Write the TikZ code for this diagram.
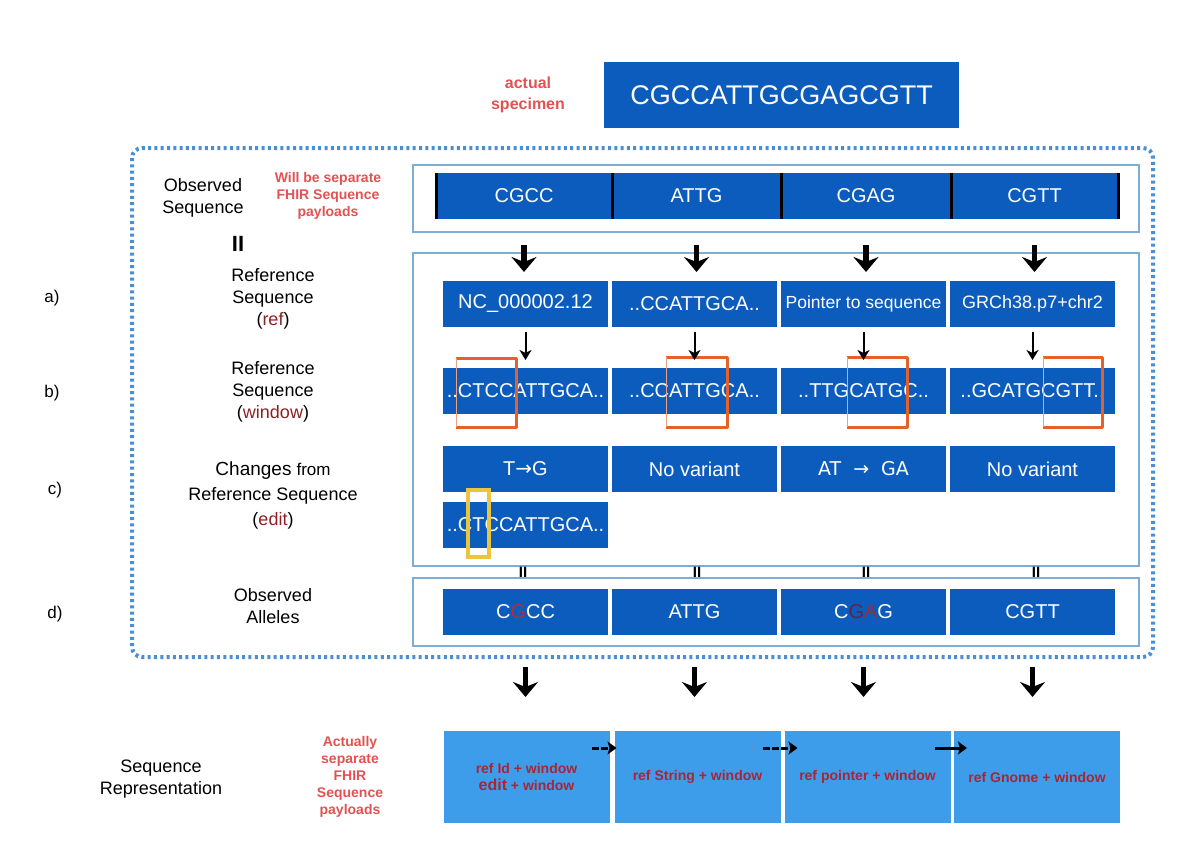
\documentclass[tikz,border=0pt]{standalone}
\usepackage{fontspec}
\setmainfont{Liberation Sans}
\newfontfamily\dejavu{DejaVu Sans}
\usepackage{xcolor}
\usetikzlibrary{arrows.meta,positioning,calc}

\definecolor{seqblue}{RGB}{11,92,189}
\definecolor{repblue}{RGB}{62,157,235}
\definecolor{frameblue}{RGB}{125,172,214}
\definecolor{dotblue}{RGB}{74,143,214}
\definecolor{notered}{RGB}{226,82,82}
\definecolor{tagred}{RGB}{140,32,36}
\definecolor{boxred}{RGB}{168,38,52}
\definecolor{snpred}{RGB}{190,40,52}
\definecolor{snpdark}{RGB}{105,32,72}
\definecolor{markorange}{RGB}{228,98,42}
\definecolor{markyellow}{RGB}{234,198,62}

\begin{document}
\begin{tikzpicture}[
    x=1pt, y=-1pt,
    node distance=4pt,
    seqbox/.style={rectangle, fill=seqblue, text=white, minimum width=165pt, minimum height=46pt, inner sep=0pt, outer sep=0pt, font=\fontsize{20}{24}\selectfont},
    repbox/.style={rectangle, fill=repblue, minimum width=166pt, minimum height=92pt, inner sep=0pt, outer sep=0pt, text=boxred, align=center, font=\bfseries\fontsize{14}{17}\selectfont},
    panel/.style={rectangle, draw=frameblue, line width=1.5pt, inner sep=0pt, outer sep=0pt},
    dotframe/.style={draw=dotblue, line width=4pt, dash pattern=on 3pt off 3.3pt, rounded corners=10pt},
    sidetext/.style={align=center, font=\fontsize{18}{22}\selectfont},
    note/.style={align=center, text=notered, font=\bfseries\fontsize{14}{17}\selectfont},
    tag/.style={font=\fontsize{17}{20}\selectfont},
    eqmark/.style={font=\bfseries\fontsize{15}{15}\selectfont},
    bigarrow/.style={line width=5.5pt, -{Stealth[length=15pt,width=25pt,inset=5pt]}},
    thinarrow/.style={line width=2pt, -{Stealth[length=10pt,width=12pt,inset=3pt]}},
    dasharrow/.style={line width=3pt, dash pattern=on 7pt off 2pt, -{Stealth[length=9pt,width=13pt,inset=2pt]}},
    sepbar/.style={line width=3pt, black},
    winmark/.style={draw=markorange, line width=3pt, line join=round},
    winedge/.style={draw=markorange!60!white, line width=1pt},
    editmark/.style={draw=markyellow, line width=3.5pt}
]
    \useasboundingbox (0,0) rectangle (1193,848);

    % actual specimen
    \node[note, font=\bfseries\fontsize{16}{21}\selectfont] (spec_note) at (528,95) {actual\\specimen};
    \node[seqbox, minimum width=355pt, minimum height=66pt, font=\fontsize{27}{30}\selectfont] (specimen) at (781.5,95) {CGCCATTGCGAGCGTT};

    % dotted frame
    \draw[dotframe] (132,148) rectangle (1153,657);

    % panels
    \node[panel, minimum width=726pt, minimum height=67pt] (panel_obs) at (776,198.5) {};
    \node[panel, minimum width=726pt, minimum height=313pt] (panel_ref) at (776,409.5) {};
    \node[panel, minimum width=726pt, minimum height=68pt] (panel_all) at (776,612) {};

    % left column texts
    \node[sidetext] (obs_label) at (203,198) {Observed\\Sequence};
    \node[note] (sep_note) at (328,196) {Will be separate\\FHIR Sequence\\payloads};
    \node[font=\bfseries\fontsize{22}{22}\selectfont] (obs_eq) at (238,244) {II};
    \node[sidetext] (ref_label) at (273,299) {Reference\\Sequence\\(\textcolor{tagred}{ref})};
    \node[sidetext] (win_label) at (273,392) {Reference\\Sequence\\(\textcolor{tagred}{window})};
    \node[sidetext, font=\fontsize{18}{25}\selectfont] (chg_label) at (273,495) {{\fontsize{19}{25}\selectfont Changes} {\fontsize{17}{25}\selectfont from}\\Reference Sequence\\(\textcolor{tagred}{edit})};
    \node[sidetext] (all_label) at (273,606) {Observed\\Alleles};
    \node[tag] (tag_a) at (52,298) {a)};
    \node[tag] (tag_b) at (52,393) {b)};
    \node[tag] (tag_c) at (55,490) {c)};
    \node[tag] (tag_d) at (55,614) {d)};
    \node[sidetext] (rep_label) at (161,779) {Sequence\\Representation};
    \node[note] (act_note) at (350,777) {Actually\\separate\\FHIR\\Sequence\\payloads};

    % observed sequence pieces
    \node[seqbox, minimum width=176pt] (seq_1) at (524,196) {CGCC};
    \node[seqbox, minimum width=169pt, right=0pt of seq_1] (seq_2) {ATTG};
    \node[seqbox, minimum width=170pt, right=0pt of seq_2] (seq_3) {CGAG};
    \node[seqbox, minimum width=167pt, right=0pt of seq_3] (seq_4) {CGTT};
    \draw[sepbar] (seq_1.north west) -- (seq_1.south west);
    \draw[sepbar] (seq_1.north east) -- (seq_1.south east);
    \draw[sepbar] (seq_2.north east) -- (seq_2.south east);
    \draw[sepbar] (seq_3.north east) -- (seq_3.south east);
    \draw[sepbar] (seq_4.north east) -- (seq_4.south east);

    % a) reference sequence
    \node[seqbox] (ref_1) at (525.5,304) {NC\_000002.12};
    \node[seqbox, right=of ref_1] (ref_2) {..CCATTGCA..};
    \node[seqbox, right=of ref_2, font=\fontsize{17.5}{20}\selectfont] (ref_3) {Pointer to sequence};
    \node[seqbox, right=of ref_3, font=\fontsize{18}{20}\selectfont] (ref_4) {GRCh38.p7+chr2};

    % b) reference window
    \node[seqbox, below=41pt of ref_1] (win_1) {..CTCCATTGCA..};
    \node[seqbox, right=of win_1] (win_2) {..CCATTGCA..};
    \node[seqbox, right=of win_2] (win_3) {..TTGCATGC..};
    \node[seqbox, right=of win_3] (win_4) {..GCATGCGTT..};

    % c) edits
    \node[seqbox, below=32pt of win_1] (chg_1) {T{\dejavu →}G};
    \node[seqbox, right=of chg_1] (chg_2) {No variant};
    \node[seqbox, right=of chg_2, font=\dejavu\fontsize{19}{20}\selectfont] (chg_3) {AT\ \ →\ \ GA};
    \node[seqbox, right=of chg_3] (chg_4) {No variant};
    \node[seqbox, below=10pt of chg_1] (edit_1) {..CTCCATTGCA..};

    % d) observed alleles
    \node[seqbox] (all_1) at (525.5,612) {C\textcolor{snpred}{G}CC};
    \node[seqbox, right=of all_1] (all_2) {ATTG};
    \node[seqbox, right=of all_2] (all_3) {C\textcolor{snpdark}{G}\textcolor{boxred}{A}G};
    \node[seqbox, right=of all_3] (all_4) {CGTT};
    \node[eqmark] (eq_1) at (523,572) {II};
    \node[eqmark] (eq_2) at (697,572) {II};
    \node[eqmark] (eq_3) at (866,572) {II};
    \node[eqmark] (eq_4) at (1036,572) {II};

    % window marks
    \draw[winmark] ([shift={(13pt,10pt)}]win_1.north west) -- ++(60pt,0pt) -- ++(0pt,-69pt) -- ++(-60pt,0pt);
    \draw[winedge] ([shift={(13pt,10pt)}]win_1.north west) -- ++(0pt,-69pt);
    \draw[winmark] ([shift={(54pt,11pt)}]win_2.north west) -- ++(61pt,0pt) -- ++(0pt,-70pt) -- ++(-61pt,0pt);
    \draw[winedge] ([shift={(54pt,11pt)}]win_2.north west) -- ++(0pt,-70pt);
    \draw[winmark] ([shift={(66pt,11pt)}]win_3.north west) -- ++(60pt,0pt) -- ++(0pt,-70pt) -- ++(-60pt,0pt);
    \draw[winedge] ([shift={(66pt,11pt)}]win_3.north west) -- ++(0pt,-70pt);
    \draw[winmark] ([shift={(93pt,11pt)}]win_4.north west) -- ++(59pt,0pt) -- ++(0pt,-70pt) -- ++(-59pt,0pt);
    \draw[winedge] ([shift={(93pt,11pt)}]win_4.north west) -- ++(0pt,-70pt);
    \draw[editmark] ([shift={(25pt,12pt)}]edit_1.north west) rectangle ++(21pt,-67pt);

    % observed -> reference
    \draw[bigarrow, shorten <=26pt, shorten >=9pt] (seq_1.south) -- (seq_1.south |- ref_1.north);
    \draw[bigarrow, shorten <=26pt, shorten >=9pt] (seq_2.south) -- (seq_2.south |- ref_2.north);
    \draw[bigarrow, shorten <=26pt, shorten >=9pt] (seq_3.south) -- (seq_3.south |- ref_3.north);
    \draw[bigarrow, shorten <=26pt, shorten >=9pt] (seq_4.south) -- (seq_4.south |- ref_4.north);

    % reference -> window
    \draw[thinarrow, shorten <=5pt, shorten >=8pt] (ref_1.south) -- (win_1.north);
    \draw[thinarrow, shorten <=5pt, shorten >=8pt] (ref_2.south) -- (win_2.north);
    \draw[thinarrow, shorten <=5pt, shorten >=8pt] (ref_3.south) -- (win_3.north);
    \draw[thinarrow, shorten <=5pt, shorten >=8pt] (ref_4.south) -- (win_4.north);

    % sequence representation
    \node[repbox] (rep_1) at (526.5,777) {ref Id + window\\{\fontsize{16}{17}\selectfont edit} + window};
    \node[repbox] (rep_2) at (697.5,777) {ref String + window};
    \node[repbox] (rep_3) at (867.5,777) {ref pointer + window};
    \node[repbox] (rep_4) at (1037,777) {ref Gnome + window};

    % alleles -> representation
    \draw[bigarrow, shorten <=32pt, shorten >=34pt] (all_1.south) -- (all_1.south |- rep_1.north);
    \draw[bigarrow, shorten <=32pt, shorten >=34pt] (all_2.south) -- (all_2.south |- rep_2.north);
    \draw[bigarrow, shorten <=32pt, shorten >=34pt] (all_3.south) -- (all_3.south |- rep_3.north);
    \draw[bigarrow, shorten <=32pt, shorten >=34pt] (all_4.south) -- (all_4.south |- rep_4.north);

    % links between payloads
    \draw[dasharrow] ([shift={(-18pt,-17pt)}]rep_1.north east) -- ([shift={(2pt,-17pt)}]rep_2.north west);
    \draw[dasharrow] ([shift={(-18pt,-17pt)}]rep_2.north east) -- ([shift={(13pt,-17pt)}]rep_3.north west);
    \draw[dasharrow, solid] ([shift={(-16pt,-17pt)}]rep_3.north east) -- ([shift={(13pt,-17pt)}]rep_4.north west);
\end{tikzpicture}
\end{document}
